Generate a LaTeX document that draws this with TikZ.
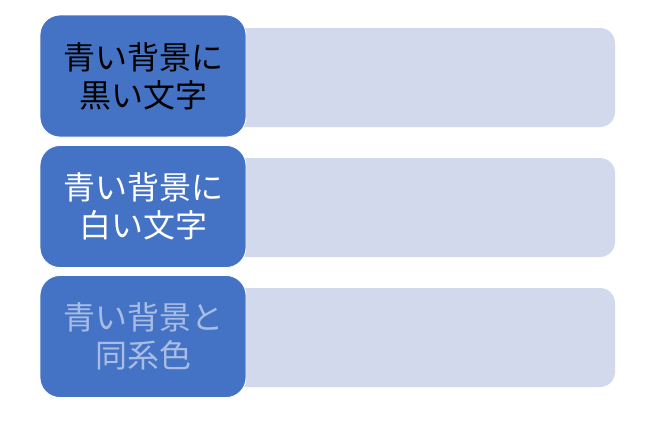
\documentclass[tikz,border=0pt]{standalone}
\usepackage{fontspec}
\newfontfamily\cjk{Noto Sans CJK JP}
\definecolor{bluefill}{HTML}{4472C4}
\definecolor{lightfill}{HTML}{D3D9EC}
\definecolor{sametone}{HTML}{A9BDE4}
\begin{document}
\begin{tikzpicture}[x=1pt,y=-1pt,
  bar/.style={fill=lightfill,draw=none,rounded corners=15pt},
  label/.style={fill=bluefill,draw=white,line width=0.8pt,rounded corners=20pt,
    minimum width=206pt,minimum height=122pt,inner sep=0pt,align=center,
    font=\cjk\fontsize{32}{38}\selectfont},
]
\useasboundingbox (0,0) rectangle (650,421);
\fill[bar] (225,28) rectangle (615,127);
\fill[bar] (225,158) rectangle (615,257);
\fill[bar] (225,288) rectangle (615,387);
\node[label,text=black] (a) at (143,76) {青い背景に\\黒い文字};
\node[label,text=white] (b) at (143,206.5) {青い背景に\\白い文字};
\node[label,text=sametone] (c) at (143,336.5) {青い背景と\\同系色};
\end{tikzpicture}
\end{document}
